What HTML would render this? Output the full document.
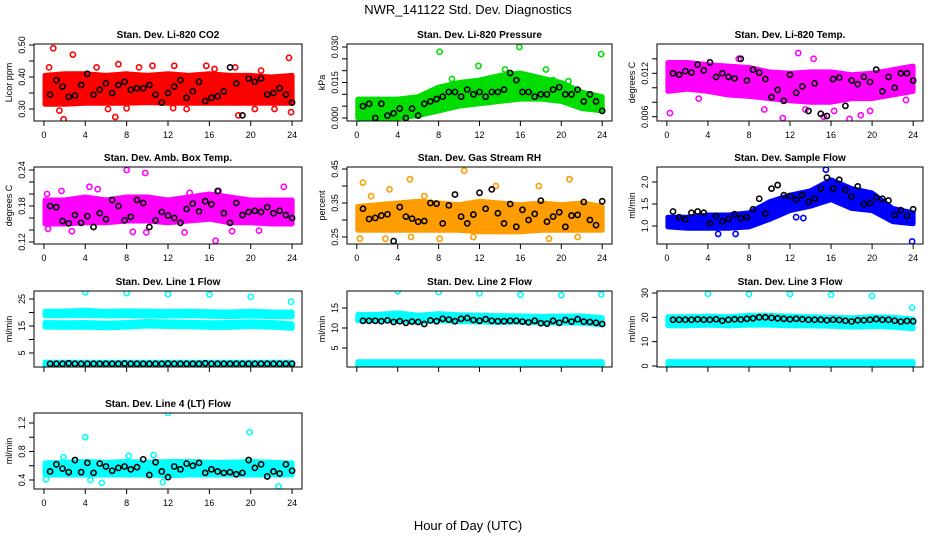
<!DOCTYPE html>
<html><head><meta charset="utf-8"><style>
body{margin:0;background:#fff;}
svg{display:block;font-family:"Liberation Sans",sans-serif;}
</style></head><body>
<svg id="c" width="936" height="540" viewBox="0 0 936 540">
<text x="468" y="14" text-anchor="middle" font-size="13">NWR_141122 Std. Dev. Diagnostics</text>
<text x="468" y="530" text-anchor="middle" font-size="13">Hour of Day (UTC)</text>
</svg>
<script>
// band sample hours (categories)
const bandHours = [0,2,4,6,8,10,12,14,16,18,20,22,24];
// black (hourly-ish mean) point hours
const blackHours = [0.6,1.2,1.8,2.4,3,3.6,4.2,4.8,5.4,6,6.6,7.2,7.8,8.4,9,9.6,10.2,10.8,11.4,12,12.6,13.2,13.8,14.4,15,15.6,16.2,16.8,17.4,18,18.6,19.2,19.8,20.4,21,21.6,22.2,22.8,23.4,24];

const co2Lo=[0.315,0.315,0.318,0.318,0.318,0.32,0.318,0.318,0.318,0.318,0.318,0.318,0.318];
const co2Hi=[0.405,0.41,0.41,0.405,0.41,0.405,0.41,0.405,0.41,0.405,0.405,0.4,0.405];
const co2Out=[[0.9,0.49],[2.8,0.47],[1.9,0.268],[6.9,0.275],[18.8,0.28],[23.7,0.46],[23.9,0.29],[0.5,0.43],[7.2,0.44],[12.6,0.435],[15.7,0.435],[18.5,0.43],[1.5,0.295],[6.2,0.3],[8,0.302],[12.5,0.303],[13.8,0.3],[20.4,0.3],[22.3,0.3],[5.1,0.43],[9.2,0.43],[10.5,0.435],[16.5,0.425],[21,0.42]];
const co2Blk=[0.345,0.39,0.37,0.338,0.342,0.375,0.41,0.345,0.36,0.38,0.35,0.375,0.385,0.36,0.365,0.365,0.375,0.345,0.32,0.35,0.37,0.39,0.335,0.355,0.385,0.325,0.335,0.34,0.355,0.43,0.38,0.28,0.395,0.385,0.395,0.345,0.35,0.365,0.345,0.32];

const prLo=[0,0,0,0.001,0.003,0.005,0.006,0.007,0.008,0.008,0.007,0.004,0.003];
const prHi=[0.008,0.008,0.008,0.009,0.013,0.015,0.016,0.018,0.019,0.017,0.015,0.011,0.009];
const prOut=[[8.1,0.028],[15.9,0.03],[23.9,0.027],[11.9,0.022],[14.5,0.0205],[18.5,0.0205],[9.3,0.0165],[19.2,0.016],[20.7,0.0155],[8.2,0.0125],[11.5,0.013]];
const prBlk=[0.005,0.006,0,0.006,0.001,0.002,0.004,0,0.004,0.001,0.006,0.007,0.008,0.009,0.011,0.011,0.009,0.012,0.010,0.011,0.009,0.011,0.011,0.012,0.019,0.016,0.011,0.011,0.009,0.01,0.01,0.012,0.013,0.01,0.01,0.012,0.007,0.01,0.007,0.003];

const tpLo=[0.0095,0.0098,0.0095,0.009,0.0088,0.0085,0.0082,0.008,0.008,0.0085,0.0085,0.009,0.0095];
const tpHi=[0.0135,0.0135,0.0132,0.013,0.0128,0.0122,0.012,0.0122,0.0122,0.0118,0.012,0.0125,0.013];
const tpOut=[[0.3,0.0065],[12.8,0.0148],[14.3,0.014],[7,0.014],[9.5,0.007],[11.3,0.0058],[15.3,0.006],[17.8,0.0057],[18.9,0.0062],[19.8,0.0068],[3.1,0.0085],[13.5,0.007],[23.3,0.0083],[16.3,0.0068]];
const tpBlk=[0.012,0.0118,0.0123,0.0121,0.0132,0.0124,0.0135,0.0115,0.012,0.0115,0.0113,0.014,0.011,0.0125,0.0121,0.0112,0.0087,0.0097,0.0082,0.0118,0.0093,0.0102,0.0068,0.0106,0.0064,0.0061,0.0112,0.0114,0.0075,0.011,0.0105,0.0115,0.0108,0.0125,0.0095,0.0115,0.01,0.012,0.012,0.011];

const abLo=[0.15,0.15,0.152,0.152,0.155,0.155,0.152,0.155,0.158,0.152,0.152,0.15,0.15];
const abHi=[0.19,0.19,0.195,0.19,0.195,0.195,0.19,0.195,0.2,0.195,0.19,0.19,0.19];
const abOut=[[0.3,0.2],[1.7,0.205],[4.4,0.212],[5.2,0.208],[8,0.24],[9.8,0.235],[23.2,0.212],[16.6,0.122],[14.1,0.202],[0.4,0.142],[2.7,0.138],[8.6,0.137],[9.9,0.136],[13.6,0.136],[18.2,0.138],[20.8,0.139],[16.9,0.205]];
const abBlk=[0.18,0.178,0.155,0.151,0.165,0.152,0.163,0.145,0.168,0.158,0.19,0.18,0.156,0.162,0.19,0.185,0.145,0.156,0.17,0.164,0.16,0.152,0.175,0.184,0.171,0.188,0.183,0.205,0.168,0.152,0.185,0.165,0.17,0.172,0.17,0.178,0.168,0.172,0.165,0.16];

const rhLo=[0.27,0.27,0.27,0.27,0.27,0.27,0.265,0.265,0.265,0.27,0.27,0.27,0.27];
const rhHi=[0.34,0.345,0.35,0.355,0.35,0.345,0.355,0.35,0.345,0.35,0.345,0.35,0.34];
const rhOut=[[0.6,0.41],[3.2,0.39],[5.2,0.42],[10.5,0.445],[13.6,0.4],[17.8,0.4],[20.8,0.42],[0.3,0.245],[2.8,0.245],[5.3,0.25],[8.1,0.245],[11.4,0.25],[18.8,0.245],[21.6,0.25],[1.4,0.37],[6.6,0.37]];
const rhBlk=[0.333,0.303,0.306,0.313,0.317,0.238,0.338,0.31,0.304,0.295,0.297,0.35,0.348,0.29,0.343,0.375,0.31,0.29,0.316,0.38,0.333,0.39,0.32,0.29,0.347,0.28,0.33,0.3,0.318,0.357,0.295,0.31,0.323,0.28,0.313,0.315,0.353,0.3,0.285,0.355];

const sfLo=[0.98,0.95,0.95,0.95,0.98,1.15,1.35,1.45,1.6,1.4,1.35,1.1,1.05];
const sfHi=[1.2,1.2,1.25,1.25,1.3,1.55,1.7,1.8,2.05,1.85,1.75,1.4,1.3];
const sfOut=[[15.5,2.28],[23.9,0.65],[5,0.82],[6.7,0.82],[10,1.2],[13.3,1.18],[12.6,1.2]];
const sfBlk=[1.33,1.2,1.15,1.3,1.33,1.3,1.06,1.23,1.1,1.16,1.27,1.18,1.2,1.38,1.62,1.28,1.85,1.93,1.7,1.68,1.6,1.7,1.55,1.62,1.85,2.1,1.85,2.05,1.82,1.67,1.9,1.5,1.52,1.65,1.62,1.58,1.25,1.36,1.23,1.38];

const l1Lo1=[18.8,18.8,18.9,18.7,18.8,18.8,18.7,18.8,18.6,18.5,18.7,18.5,18.5];
const l1Hi1=[20.5,20.5,20.8,20.4,20.6,20.5,20.4,20.5,20.3,20.2,20.5,20.2,20.2];
const l1Lo2=[14.6,14.5,14.6,14.3,14.6,15,14.8,14.7,14.5,14.5,14.8,14.6,14.1];
const l1Hi2=[16.3,16.2,16.3,16,16.3,16.7,16.5,16.4,16.2,16.3,16.5,16.3,15.8];
const l1Lo3=[0.4,0.4,0.4,0.4,0.4,0.4,0.4,0.4,0.4,0.4,0.4,0.4,0.4];
const l1Hi3=[1.6,1.6,1.6,1.6,1.6,1.6,1.6,1.6,1.6,1.6,1.6,1.6,1.6];
const l1Out=[[4,27.5],[8,27.2],[12,26.8],[16,26.7],[20,25.8],[23.9,24]];
const l1Blk=[1,1,1,1.2,1,1,1,1,1,1,1,1,1.1,1,1,1,1,1,1,1.1,1,1,1,1,1,1.2,1,1,1,1,1,1,1,1,1,1,1,1,1,1];

const l2Lo1=[11.8,11.8,11.8,11.5,11.8,11.6,11.5,11.4,11.5,11.3,11.3,11.2,10.8];
const l2Hi1=[13.4,13.4,13.8,13.2,13.6,13.3,13.2,13.1,13,12.9,13,13,12.6];
const l2Lo2=[0.4,0.4,0.4,0.4,0.4,0.4,0.4,0.4,0.4,0.4,0.4,0.4,0.4];
const l2Hi2=[1.6,1.6,1.6,1.6,1.6,1.6,1.6,1.6,1.6,1.6,1.6,1.6,1.6];
const l2Out=[[4,19.2],[8,19],[12,18.7],[16,18.3],[20,18.2],[23.9,18.4]];
const l2Blk=[11.8,11.8,11.8,11.7,11.9,11.5,11.7,11.3,11.6,11.5,11,11.9,11.7,12.3,12.1,11.7,12.3,12.5,12,11.8,12.2,11.8,11.7,11.7,11.8,11.8,11.6,11.4,11.8,11.2,11.1,11.8,11.3,12,11.6,12.2,11.6,11.5,11.3,11];

const l3Lo1=[16.5,16.5,16.8,16.5,16.8,16.8,16.5,16.5,16.3,16,16.2,16,15.3];
const l3Hi1=[20.2,20.2,20.5,20.2,20.8,20.8,20.5,20.2,20,19.8,20.2,20,19.3];
const l3Lo2=[0.4,0.4,0.4,0.4,0.4,0.4,0.4,0.4,0.4,0.4,0.4,0.4,0.4];
const l3Hi2=[1.8,1.8,1.8,1.8,1.8,1.8,1.8,1.8,1.8,1.8,1.8,1.8,1.8];
const l3Out=[[4,29.7],[8,29.6],[12,29.6],[16,29.3],[20,28.8],[23.9,24]];
const l3Blk=[19,19,19,19,19.2,19,19,19.2,18.6,19,19.2,19.1,19.4,19.6,20,20,19.8,19.6,19.4,19.2,19.4,19.2,19,19,19,18.8,19,18.9,18.6,18.3,18.8,18.8,19,19.3,19,19,18.6,18.2,18.5,18.4];

const l4Lo=[0.47,0.47,0.47,0.47,0.47,0.47,0.46,0.47,0.47,0.47,0.47,0.47,0.47];
const l4Hi=[0.64,0.65,0.66,0.65,0.66,0.65,0.66,0.66,0.65,0.65,0.66,0.65,0.64];
const l4Out=[[4,1],[12,1.34],[19.9,1.07],[22.7,0.31],[5.6,0.36],[11.5,0.37],[1.9,0.72],[8.2,0.74],[10.6,0.75],[0.2,0.41],[4.5,0.4]];
const l4Blk=[0.52,0.62,0.56,0.51,0.68,0.51,0.64,0.5,0.63,0.59,0.53,0.57,0.59,0.55,0.58,0.69,0.47,0.65,0.52,0.44,0.59,0.55,0.63,0.6,0.64,0.5,0.55,0.52,0.5,0.51,0.48,0.5,0.68,0.57,0.62,0.45,0.52,0.49,0.62,0.53];

const svg=document.getElementById('c');
const NS='http://www.w3.org/2000/svg';
function mk(tag,attrs,parent){const e=document.createElementNS(NS,tag);for(const k in attrs)e.setAttribute(k,attrs[k]);(parent||svg).appendChild(e);return e;}
const cols=[[34,302],[347,612],[657,923]];
const rows=[[44,121],[167,244],[291,367],[413,489]];

function panel(cfg){
  const [x0,x1]=cols[cfg.c],[y0,y1]=rows[cfg.r];
  const g=mk('g',{});
  
  
  const xs=h=>x0+(h+0.96)/25.92*(x1-x0);
  const ys=v=>cfg.pA+(v-cfg.vA)*(cfg.pB-cfg.pA)/(cfg.vB-cfg.vA);
  const clip='clip'+cfg.name;
  const cp=mk('clipPath',{id:clip},g);mk('rect',{x:x0,y:y0,width:x1-x0,height:y1-y0},cp);
  const dg=mk('g',{'clip-path':'url(#'+clip+')'},g);
  cfg.bands.forEach((b,bi)=>{
    const [lo,hi]=b;
    let pts=[];
    bandHours.forEach((h,i)=>pts.push(xs(Math.max(h,0.1)).toFixed(1)+','+ys(hi[i]).toFixed(1)));
    for(let i=bandHours.length-1;i>=0;i--)pts.push(xs(Math.max(bandHours[i],0.1)).toFixed(1)+','+ys(lo[i]).toFixed(1));
    const p=mk('polygon',{points:pts.join(' '),fill:cfg.col,stroke:cfg.col,'stroke-width':5,'stroke-linejoin':'round'},dg);
    
    
  });
  cfg.out.forEach(o=>{
    const c=mk('circle',{cx:xs(o[0]),cy:ys(o[1]),r:2.6,fill:'none',stroke:cfg.col,'stroke-width':1.6},dg);
    
    
  });
  cfg.blk.forEach((v,i)=>{
    const c=mk('circle',{cx:xs(blackHours[i]),cy:ys(v),r:2.6,fill:'none',stroke:'#000','stroke-width':1.6},dg);
    
    
  });
  const bx=mk('rect',{x:x0,y:y0,width:x1-x0,height:y1-y0,fill:'none',stroke:'#000','stroke-width':1},g);
  
  
  const t=mk('text',{x:(x0+x1)/2,y:y0-6,'text-anchor':'middle','font-size':10,'font-weight':'bold'},g);
  t.textContent=cfg.title;
  
  
  [0,4,8,12,16,20,24].forEach(h=>{
    mk('line',{x1:xs(h),x2:xs(h),y1:y1,y2:y1+5,stroke:'#000'},g);
    if(cfg.r<2||cfg.r==3||true){
      if(cfg.r==2) return;
      const tl=mk('text',{x:xs(h),y:y1+17,'text-anchor':'middle','font-size':9},g);
      tl.textContent=h;
      
      
    }
  });
  mk('line',{x1:xs(0),x2:xs(24),y1:y1,y2:y1,stroke:'#000'},g);
  cfg.ticks.forEach(v=>{
    mk('line',{x1:x0-5,x2:x0,y1:ys(v),y2:ys(v),stroke:'#000'},g);
  });
  mk('line',{x1:x0,x2:x0,y1:ys(cfg.ticks[0]),y2:ys(cfg.ticks[cfg.ticks.length-1]),stroke:'#000'},g);
  cfg.labels.forEach(l=>{
    const yy=ys(l[0]);
    const tl=mk('text',{x:x0-9,y:yy,'text-anchor':'middle','font-size':9,transform:'rotate(-90 '+(x0-9)+' '+yy+')'},g);
    tl.textContent=l[1];
    
    
  });
  const yl=(y0+y1)/2;
  const yt=mk('text',{x:x0-22,y:yl,'text-anchor':'middle','font-size':9,transform:'rotate(-90 '+(x0-22)+' '+yl+')'},g);
  yt.textContent=cfg.ylab;
  
  
}

panel({name:'co2-panel',c:0,r:0,title:'Stan. Dev. Li-820 CO2',ylab:'Licor ppm',col:'#ff0000',vA:0.3,pA:109,vB:0.5,pB:45,ticks:[0.3,0.35,0.4,0.45,0.5],labels:[[0.3,'0.30'],[0.4,'0.40'],[0.5,'0.50']],bands:[[co2Lo,co2Hi]],out:co2Out,blk:co2Blk});
panel({name:'pressure-panel',c:1,r:0,title:'Stan. Dev. Li-820 Pressure',ylab:'kPa',col:'#00dd00',vA:0,pA:118,vB:0.03,pB:47,ticks:[0,0.005,0.01,0.015,0.02,0.025,0.03],labels:[[0,'0.000'],[0.015,'0.015'],[0.03,'0.030']],bands:[[prLo,prHi]],out:prOut,blk:prBlk});
panel({name:'temp-panel',c:2,r:0,title:'Stan. Dev. Li-820 Temp.',ylab:'degrees C',col:'#ff00ff',vA:0.006,pA:116.7,vB:0.012,pB:73.3,ticks:[0.006,0.008,0.01,0.012,0.014],labels:[[0.006,'0.006'],[0.012,'0.012']],bands:[[tpLo,tpHi]],out:tpOut,blk:tpBlk});
panel({name:'ambbox-panel',c:0,r:1,title:'Stan. Dev. Amb. Box Temp.',ylab:'degrees C',col:'#ff00ff',vA:0.12,pA:242,vB:0.24,pB:170,ticks:[0.12,0.14,0.16,0.18,0.2,0.22,0.24],labels:[[0.12,'0.12'],[0.18,'0.18'],[0.24,'0.24']],bands:[[abLo,abHi]],out:abOut,blk:abBlk});
panel({name:'rh-panel',c:1,r:1,title:'Stan. Dev. Gas Stream RH',ylab:'percent',col:'#ff9c00',vA:0.25,pA:237,vB:0.45,pB:169,ticks:[0.25,0.3,0.35,0.4,0.45],labels:[[0.25,'0.25'],[0.35,'0.35'],[0.45,'0.45']],bands:[[rhLo,rhHi]],out:rhOut,blk:rhBlk});
panel({name:'sampleflow-panel',c:2,r:1,title:'Stan. Dev. Sample Flow',ylab:'ml/min',col:'#0000ff',vA:1,pA:226,vB:2,pB:182,ticks:[1,1.5,2],labels:[[1,'1.0'],[1.5,'1.5'],[2,'2.0']],bands:[[sfLo,sfHi]],out:sfOut,blk:sfBlk});
panel({name:'line1-panel',c:0,r:2,title:'Stan. Dev. Line 1 Flow',ylab:'ml/min',col:'#00ffff',vA:5,pA:353,vB:25,pB:299,ticks:[5,10,15,20,25],labels:[[5,'5'],[15,'15'],[25,'25']],bands:[[l1Lo1,l1Hi1],[l1Lo2,l1Hi2],[l1Lo3,l1Hi3]],out:l1Out,blk:l1Blk});
panel({name:'line2-panel',c:1,r:2,title:'Stan. Dev. Line 2 Flow',ylab:'ml/min',col:'#00ffff',vA:5,pA:348,vB:15,pB:308,ticks:[5,10,15],labels:[[5,'5'],[10,'10'],[15,'15']],bands:[[l2Lo1,l2Hi1],[l2Lo2,l2Hi2]],out:l2Out,blk:l2Blk});
panel({name:'line3-panel',c:2,r:2,title:'Stan. Dev. Line 3 Flow',ylab:'ml/min',col:'#00ffff',vA:0,pA:366,vB:30,pB:293,ticks:[0,10,20,30],labels:[[0,'0'],[10,'10'],[20,'20'],[30,'30']],bands:[[l3Lo1,l3Hi1],[l3Lo2,l3Hi2]],out:l3Out,blk:l3Blk});
panel({name:'line4-panel',c:0,r:3,title:'Stan. Dev. Line 4 (LT) Flow',ylab:'ml/min',col:'#00ffff',vA:0.4,pA:480,vB:1.2,pB:423,ticks:[0.4,0.6,0.8,1,1.2],labels:[[0.4,'0.4'],[0.8,'0.8'],[1.2,'1.2']],bands:[[l4Lo,l4Hi]],out:l4Out,blk:l4Blk});
</script>
</body></html>
